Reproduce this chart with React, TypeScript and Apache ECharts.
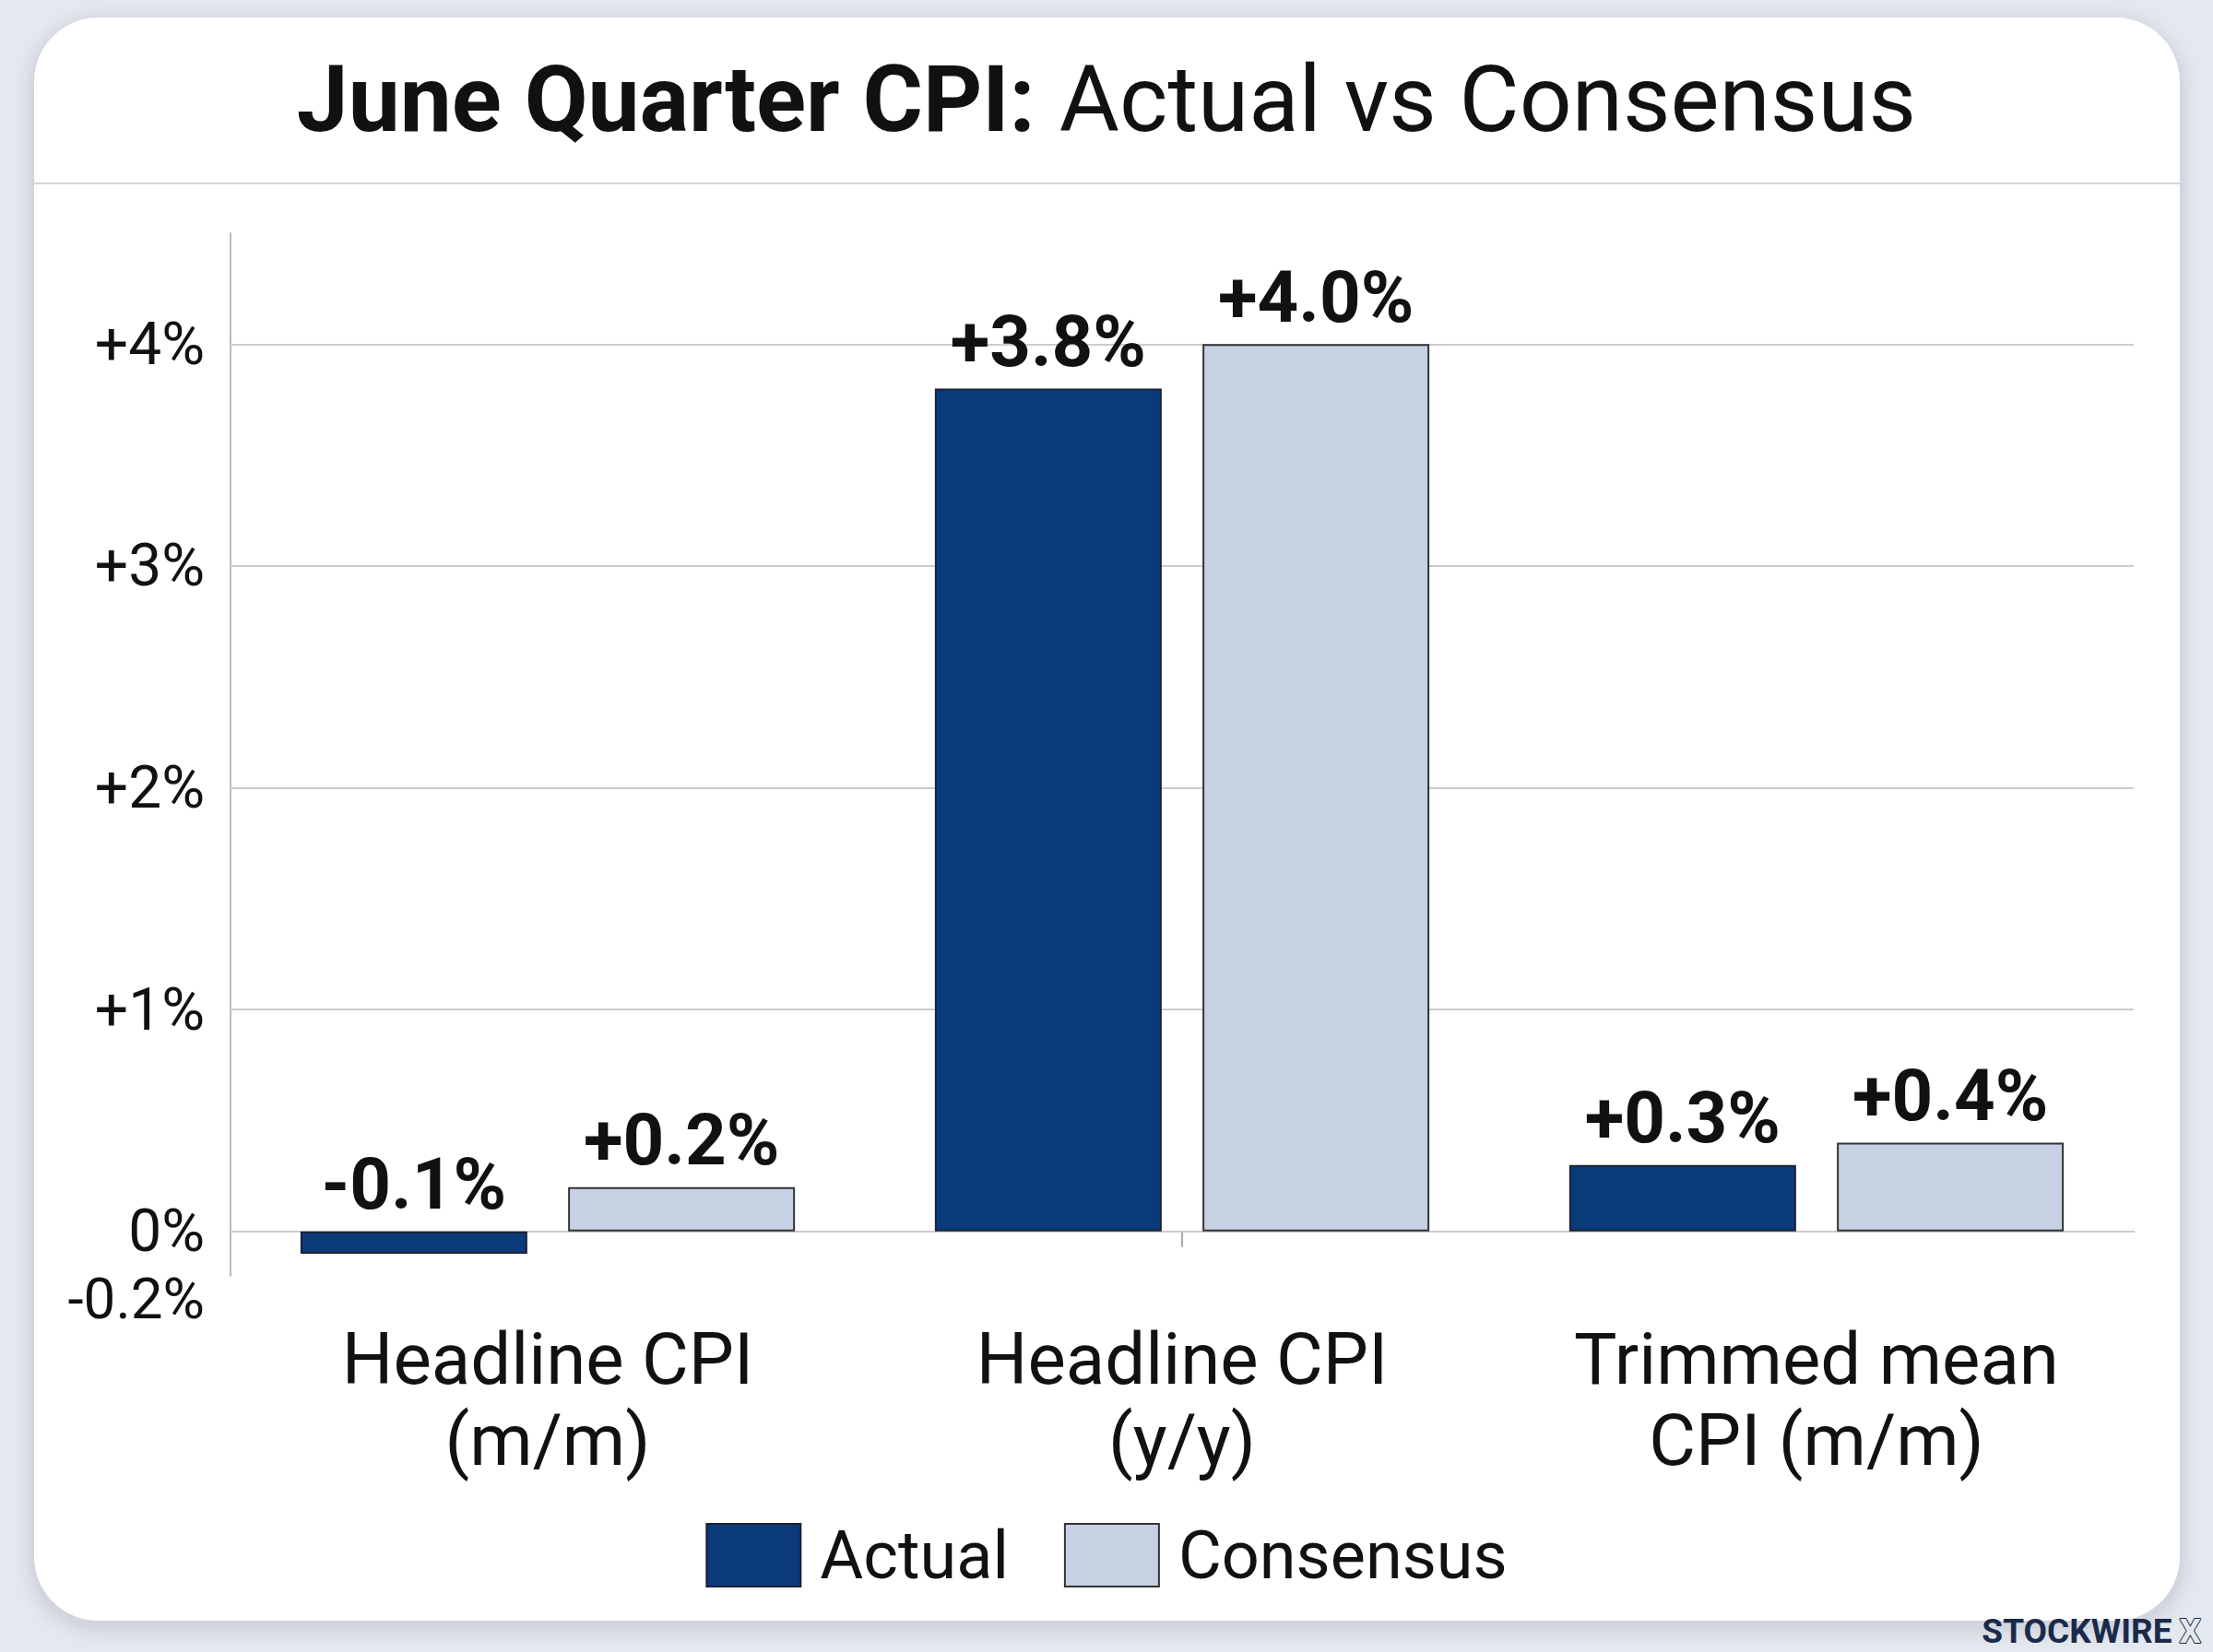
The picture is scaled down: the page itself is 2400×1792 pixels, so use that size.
import React, { useEffect, useRef } from "react";
import * as echarts from "echarts";

const categories = ["Headline CPI\n(m/m)", "Headline CPI\n(y/y)", "Trimmed mean\nCPI (m/m)"];
const actualValues = [-0.1, 3.8, 0.3];
const consensusValues = [0.2, 4.0, 0.4];
const gridValues = [0, 1, 2, 3, 4];
const seriesNames = ["Actual", "Consensus"];
const titleBold = "June Quarter CPI:";
const titleRegular = "Actual vs Consensus";
const watermark = "STOCKWIRE";

const FONT = "Roboto";
const NAVY = "#0b3a7a";
const LIGHT = "#c6d2e3";

function fmtBar(v: number) {
  return (v > 0 ? "+" : "") + v.toFixed(1) + "%";
}

function fmtAxis(v: number) {
  if (Math.abs(v + 0.2) < 1e-6) return "{low|-0.2%}";
  if (Math.abs(v - Math.round(v)) < 1e-6 && v >= -1e-6 && v <= 4 + 1e-6) {
    const r = Math.round(v);
    return r === 0 ? "0%" : "+" + r + "%";
  }
  return "";
}

export default function App() {
  const ref = useRef<HTMLDivElement>(null);
  useEffect(() => {
    if (!ref.current) return;
    const chart = echarts.init(ref.current, null, { renderer: "svg" });
    const barLabel = {
      show: true,
      position: "top" as const,
      distance: 12,
      fontFamily: FONT,
      fontWeight: "bold" as const,
      fontSize: 78,
      color: "#111111",
      formatter: (p: any) => fmtBar(p.value),
    };
    chart.setOption({
      animation: false,
      backgroundColor: "#e4e8ef",
      textStyle: { fontFamily: FONT },
      graphic: [
        {
          type: "rect",
          z: 0,
          shape: { x: 37, y: 19, width: 2327, height: 1739, r: 70 },
          style: {
            fill: "#ffffff",
            shadowBlur: 24,
            shadowColor: "rgba(30,40,60,0.18)",
            shadowOffsetY: 6,
          },
        },
        {
          type: "line",
          z: 1,
          shape: { x1: 37, y1: 199, x2: 2364, y2: 199 },
          style: { stroke: "#d4d4d4", lineWidth: 2 },
        },
        {
          type: "text",
          z: 1,
          right: 12,
          top: 1750,
          style: {
            text: "{a|" + watermark + "}{x|X}",
            rich: {
              a: {
                fontFamily: FONT,
                fontWeight: "bold",
                fontSize: 37,
                fill: "#1b2a4a",
                padding: [0, 8, 0, 0],
              },
              x: {
                fontFamily: FONT,
                fontWeight: "bold",
                fontSize: 37,
                fill: "#e4e8ef",
                stroke: "#1b2a4a",
                lineWidth: 2,
              },
            },
          },
        },
      ],
      title: {
        text: "{b|" + titleBold + "}{r|" + titleRegular + "}",
        left: "center",
        top: 52,
        textStyle: {
          rich: {
            b: {
              fontFamily: FONT,
              fontSize: 100,
              fontWeight: "bold",
              color: "#111111",
              padding: [0, 26, 0, 0],
            },
            r: { fontFamily: FONT, fontSize: 100, fontWeight: "normal", color: "#111111" },
          },
        },
      },
      legend: {
        data: seriesNames,
        left: "center",
        top: 1646,
        icon: "rect",
        itemWidth: 102,
        itemHeight: 68,
        itemGap: 60,
        textStyle: { fontFamily: FONT, fontSize: 72, color: "#111111", padding: [0, 0, 0, 16] },
      },
      grid: { left: 250, right: 86, top: 253, bottom: 408, containLabel: false },
      xAxis: {
        type: "category",
        data: categories,
        axisLine: { show: true, lineStyle: { color: "#aaaaaa", width: 2 } },
        axisTick: {
          show: true,
          alignWithLabel: true,
          length: 17,
          interval: (i: number) => i === 1,
          lineStyle: { color: "#aaaaaa", width: 2 },
        },
        axisLabel: {
          fontFamily: FONT,
          fontSize: 78,
          lineHeight: 88,
          color: "#111111",
          margin: 46,
          interval: 0,
        },
      },
      yAxis: {
        type: "value",
        min: -0.2,
        max: 4.5,
        interval: 0.1,
        axisLine: { show: true, lineStyle: { color: "#bbbbbb", width: 2 } },
        axisTick: { show: false },
        splitLine: { show: false },
        axisLabel: {
          showMinLabel: true,
          showMaxLabel: false,
          fontFamily: FONT,
          fontSize: 64,
          color: "#111111",
          margin: 28,
          formatter: fmtAxis,
          rich: {
            low: { fontFamily: FONT, fontSize: 62, color: "#111111", padding: [48, 0, 0, 0] },
          },
        },
      },
      series: [
        {
          name: seriesNames[0],
          type: "bar",
          data: actualValues,
          barWidth: 246,
          barGap: "18%",
          itemStyle: { color: NAVY, borderColor: "#1a2233", borderWidth: 2 },
          label: barLabel,
          markLine: {
            silent: true,
            z: 1,
            symbol: ["none", "none"],
            label: { show: false },
            lineStyle: { color: "#cccccc", width: 2, type: "solid" },
            data: gridValues.map((v) => ({ yAxis: v })),
          },
        },
        {
          name: seriesNames[1],
          type: "bar",
          data: consensusValues,
          barWidth: 246,
          barGap: "18%",
          itemStyle: { color: LIGHT, borderColor: "#333333", borderWidth: 2 },
          label: barLabel,
        },
      ],
    });
    return () => chart.dispose();
  }, []);
  return (
    <div
      ref={ref}
      style={{ position: "absolute", left: 0, top: 0, width: 2400, height: 1792 }}
    />
  );
}
